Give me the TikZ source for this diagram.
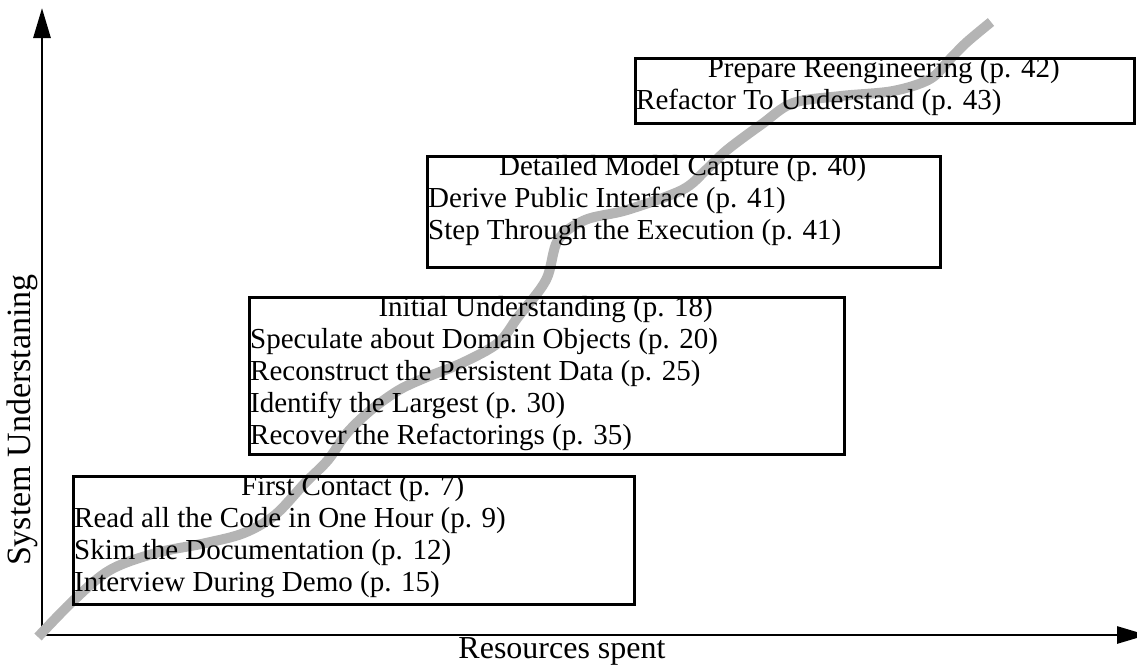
\documentclass[tikz,border=0pt]{standalone}
\usepackage{fontspec}
\setmainfont{Liberation Serif}
\usetikzlibrary{arrows.meta}
\definecolor{curvegray}{RGB}{180,180,180}
\newcommand{\stagefont}{\fontsize{29}{32}\selectfont}
\newcommand{\stagelist}[3]{\parbox[t]{#1}{\stagefont\centering #2\par\raggedright #3\par}}
\begin{document}
\begin{tikzpicture}[x=1pt,y=-1pt,
  axis/.style={line width=2.8pt,-{Triangle[length=30pt,width=17pt]}},
  stagebox/.style={draw,line width=2.8pt,anchor=north west,inner sep=0pt},
  stagetext/.style={anchor=north west,inner xsep=2pt,inner ysep=0.5pt},
  progress/.style={line width=10pt,color=curvegray}]
\useasboundingbox (0,0) rectangle (1137,664);
% axes
\coordinate (origin) at (42,635);
\coordinate (ytip) at (42,8);
\coordinate (xtip) at (1147,635);
\draw[axis] (origin) -- (ytip);
\draw[axis] (origin) -- (xtip);
% progress curve
\draw[progress] plot[smooth, tension=0.55] coordinates {
 (38,637) (74,600) (110,570) (156,553) (206,543) (244,533) (275,515) (305,483)
 (328,460) (347,433) (371,410) (399,390) (427,377) (462,363) (498,343) (518,317)
 (546,280) (558,240) (585,220) (627,210) (682,190) (706,170) (727,150)
 (762,124) (793,103) (841,96) (893,91) (930,79) (951,58) (967,42) (991,22)};
% boxes
\node[stagebox, minimum width=561pt, minimum height=128pt] (b1) at (72,475) {};
\node[stagebox, minimum width=595pt, minimum height=157pt] (b2) at (248,296) {};
\node[stagebox, minimum width=513pt, minimum height=111pt] (b3) at (426,155) {};
\node[stagebox, minimum width=499pt, minimum height=65pt] (b4) at (634,57) {};
% texts
\node[stagetext] (t1) at (b1.north west) {\stagelist{557pt}{First Contact (p. 7)}{%
 Read all the Code in One Hour (p. 9)\par Skim the Documentation (p. 12)\par Interview During Demo (p. 15)}};
\node[stagetext] (t2) at (b2.north west) {\stagelist{591pt}{Initial Understanding (p. 18)}{%
 Speculate about Domain Objects (p. 20)\par Reconstruct the Persistent Data (p. 25)\par Identify the Largest (p. 30)\par Recover the Refactorings (p. 35)}};
\node[stagetext] (t3) at (b3.north west) {\stagelist{509pt}{Detailed Model Capture (p. 40)}{%
 Derive Public Interface (p. 41)\par Step Through the Execution (p. 41)}};
\node[stagetext] (t4) at (b4.north west) {\stagelist{495pt}{Prepare Reengineering (p. 42)}{%
 Refactor To Understand (p. 43)}};
% axis labels
\node[font=\fontsize{34}{37}\selectfont, inner sep=0pt, rotate=90] (ylab) at (22,420) {System Understaning};
\node[font=\fontsize{32}{35}\selectfont, inner sep=0pt] (xlab) at (562,651) {Resources spent};
\end{tikzpicture}
\end{document}
